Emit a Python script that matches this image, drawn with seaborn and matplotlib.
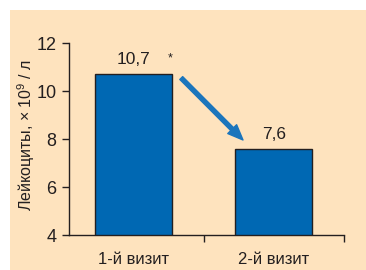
import matplotlib
matplotlib.use("Agg")
import matplotlib.pyplot as plt
import seaborn as sns
import pandas as pd
from matplotlib.patches import Rectangle

# --- data ---
visits = ["1-й визит", "2-й визит"]
leukocytes = [10.7, 7.6]
value_labels = ["10,7", "7,6"]
y_ticks = [4, 6, 8, 10, 12]

BG = "#fee3be"
BAR = "#0068b3"
ARROW = "#1b75bc"
INK = "#231f20"

sns.set_style("ticks")
plt.rcParams["font.family"] = ["Liberation Sans", "DejaVu Sans"]
plt.rcParams["mathtext.fontset"] = "custom"
plt.rcParams["mathtext.rm"] = "Liberation Sans"

df = pd.DataFrame({"visit": visits, "value": leukocytes})

fig = plt.figure(figsize=(3.66, 2.70), dpi=100, facecolor="white")
# beige panel with white margin on top and left
fig.patches.append(Rectangle((10 / 366, 0), 1, 1 - 10 / 270, transform=fig.transFigure,
                             facecolor=BG, edgecolor="none", zorder=-10))
ax = fig.add_axes([69 / 366, 1 - 235 / 270, (344 - 69) / 366, (235 - 43) / 270])
ax.set_facecolor("none")

sns.barplot(data=df, x="visit", y="value", color=BAR, width=0.55, saturation=1,
            edgecolor=INK, linewidth=1, ax=ax)
ax.bar_label(ax.containers[0], labels=value_labels, padding=5, fontsize=12.5, color=INK)

ax.set_ylim(4, 12)
ax.set_xlim(-0.46, 1.5)
ax.set_yticks(y_ticks)
ax.set_xticks([0, 1])
ax.set_xticklabels(visits)
ax.set_xticks([0.5, 1.5], minor=True)
ax.tick_params(axis="x", which="major", length=0, pad=12, labelsize=12, colors=INK)
ax.tick_params(axis="x", which="minor", length=5, width=1, color=INK, direction="out")
ax.tick_params(axis="y", length=5, width=1, pad=4, labelsize=13, colors=INK)

ax.set_xlabel("")
ax.set_ylabel("Лейкоциты, × 10$^{\\mathrm{9}}$ / л", fontsize=11.5, color=INK)
ax.yaxis.set_label_coords(-0.115, 0.52)
sns.despine(ax=ax)
for s in ["left", "bottom"]:
    ax.spines[s].set_color(INK)
    ax.spines[s].set_linewidth(1)

# significance mark and trend arrow
ax.text(0.26, 11.35, "*", ha="center", va="center", fontsize=9, color=INK)
ax.annotate("", xy=(0.78, 7.96), xytext=(0.34, 10.54),
            arrowprops=dict(width=2.9, headwidth=9, headlength=11,
                            color=ARROW, shrink=0))

fig.savefig("out.png", dpi=100, facecolor="white")
